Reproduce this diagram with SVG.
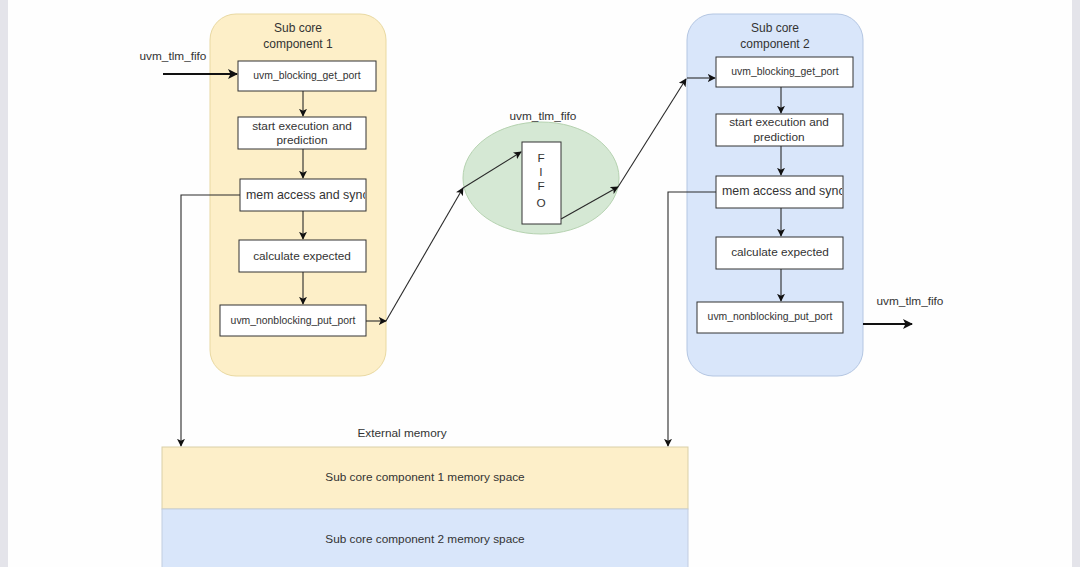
<svg xmlns="http://www.w3.org/2000/svg" width="1080" height="567" viewBox="0 0 1080 567">
<defs>
<style>
text{font-family:"Liberation Sans",Arial,sans-serif;fill:#333;}
.t{font-size:12px;text-anchor:middle;}
.b{font-size:11.8px;text-anchor:middle;}
.s{font-size:10.4px;text-anchor:middle;}
.box{fill:#fff;stroke:#333;stroke-width:1;}
.ln{fill:none;stroke:#2a2a2a;stroke-width:1.1;}
.thick{fill:none;stroke:#111;stroke-width:2.2;}
</style>
<marker id="ah" viewBox="0 0 10 10" refX="9" refY="5" markerWidth="10" markerHeight="10" markerUnits="userSpaceOnUse" orient="auto"><path d="M0,0 L10,5 L0,10 L2.5,5 Z" fill="#111"/></marker>
<marker id="ahb" viewBox="0 0 10 10" refX="9" refY="5" markerWidth="8" markerHeight="8" markerUnits="userSpaceOnUse" orient="auto"><path d="M0,0 L10,5 L0,10 L2.5,5 Z" fill="#111"/></marker>
<clipPath id="c1"><rect x="240" y="179" width="125" height="32"/></clipPath>
<clipPath id="c2"><rect x="716" y="176" width="126" height="32"/></clipPath>
</defs>
<rect width="1080" height="567" fill="#fefefe"/>
<rect x="0" y="0" width="8" height="567" fill="#e4e4ea"/>
<rect x="1072" y="0" width="8" height="567" fill="#e4e4ea"/>

<g id="external-memory">
<text x="402" y="437" font-size="11.8" text-anchor="middle">External memory</text>
<rect x="162" y="447" width="526" height="62" fill="#fdefc9" stroke="#d9cfa8"/>
<text x="425" y="481" class="b">Sub core component 1 memory space</text>
<rect x="162" y="509" width="526" height="70" fill="#d9e6fa" stroke="#c2cde0"/>
<text x="425" y="543" class="b">Sub core component 2 memory space</text>
</g>

<g id="component1">
<rect x="210" y="14" width="176" height="362" rx="26" fill="#fdefc8" stroke="#e9d9a2"/>
<text x="298" y="32" class="t">Sub core</text>
<text x="298" y="48" class="t">component 1</text>
</g>
<g id="c1-get"><rect x="238" y="61" width="138" height="30" class="box"/><text x="307" y="79" class="s">uvm_blocking_get_port</text></g>
<g id="c1-start"><rect x="238" y="117" width="128" height="32" class="box"/><text x="302" y="130" class="b">start execution and</text><text x="302" y="144" class="b">prediction</text></g>
<g id="c1-mem"><rect x="240" y="179" width="126" height="32" class="box"/><text x="246" y="199" font-size="12.4" style="text-anchor:start" clip-path="url(#c1)">mem access and sync</text></g>
<g id="c1-calc"><rect x="239" y="240" width="127" height="32" class="box"/><text x="302" y="260" class="b">calculate expected</text></g>
<g id="c1-put"><rect x="220" y="305" width="146" height="31" class="box"/><text x="293" y="324" class="s">uvm_nonblocking_put_port</text></g>

<g id="fifo">
<ellipse cx="541" cy="178" rx="78" ry="56" fill="#d5e8d4" stroke="#b5d2b0"/>
<text x="543" y="120" font-size="11.8" text-anchor="middle">uvm_tlm_fifo</text>
<rect x="522" y="142" width="39" height="82" class="box"/>
<text x="541" y="162" class="b">F</text>
<text x="541" y="176" class="b">I</text>
<text x="541" y="190" class="b">F</text>
<text x="541" y="207" class="b">O</text>
</g>

<g id="component2">
<rect x="687" y="14" width="176" height="362" rx="26" fill="#d9e6fa" stroke="#b4c6e2"/>
<text x="775" y="32" class="t">Sub core</text>
<text x="775" y="48" class="t">component 2</text>
</g>
<g id="c2-get"><rect x="716" y="57" width="137" height="30" class="box"/><text x="785" y="75" class="s">uvm_blocking_get_port</text></g>
<g id="c2-start"><rect x="716" y="114" width="127" height="32" class="box"/><text x="779" y="126" class="b">start execution and</text><text x="779" y="141" class="b">prediction</text></g>
<g id="c2-mem"><rect x="716" y="176" width="127" height="32" class="box"/><text x="722" y="195" font-size="12.4" style="text-anchor:start" clip-path="url(#c2)">mem access and sync</text></g>
<g id="c2-calc"><rect x="716" y="237" width="127" height="32" class="box"/><text x="780" y="256" class="b">calculate expected</text></g>
<g id="c2-put"><rect x="697" y="302" width="146" height="31" class="box"/><text x="770" y="320" class="s">uvm_nonblocking_put_port</text></g>

<g id="labels">
<text x="173" y="60" font-size="11.8" text-anchor="middle">uvm_tlm_fifo</text>
<text x="910" y="305" font-size="11.8" text-anchor="middle">uvm_tlm_fifo</text>
</g>

<g id="connectors">
<line x1="163" y1="74" x2="237" y2="74" class="thick" marker-end="url(#ah)"/>
<line x1="303" y1="91" x2="303" y2="116" class="ln" marker-end="url(#ahb)"/>
<line x1="303" y1="149" x2="303" y2="178" class="ln" marker-end="url(#ahb)"/>
<line x1="303" y1="211" x2="303" y2="239" class="ln" marker-end="url(#ahb)"/>
<line x1="303" y1="272" x2="303" y2="304" class="ln" marker-end="url(#ahb)"/>
<polyline points="240,195 181,195 181,446" class="ln" marker-end="url(#ahb)"/>
<line x1="366" y1="321" x2="386" y2="321" class="ln" marker-end="url(#ahb)"/>
<line x1="386" y1="321" x2="463" y2="188" class="ln" marker-end="url(#ahb)"/>
<line x1="463" y1="188" x2="521" y2="152" class="ln" marker-end="url(#ahb)"/>
<line x1="561" y1="219" x2="618" y2="187" class="ln" marker-end="url(#ahb)"/>
<line x1="618" y1="187" x2="686" y2="79" class="ln" marker-end="url(#ahb)"/>
<line x1="687" y1="78" x2="715" y2="78" class="ln" marker-end="url(#ahb)"/>
<line x1="781" y1="87" x2="781" y2="113" class="ln" marker-end="url(#ahb)"/>
<line x1="781" y1="146" x2="781" y2="175" class="ln" marker-end="url(#ahb)"/>
<line x1="781" y1="208" x2="781" y2="236" class="ln" marker-end="url(#ahb)"/>
<line x1="781" y1="269" x2="781" y2="301" class="ln" marker-end="url(#ahb)"/>
<polyline points="716,192 668,192 668,446" class="ln" marker-end="url(#ahb)"/>
<line x1="863" y1="324" x2="912" y2="324" class="thick" marker-end="url(#ah)"/>
</g>
</svg>
